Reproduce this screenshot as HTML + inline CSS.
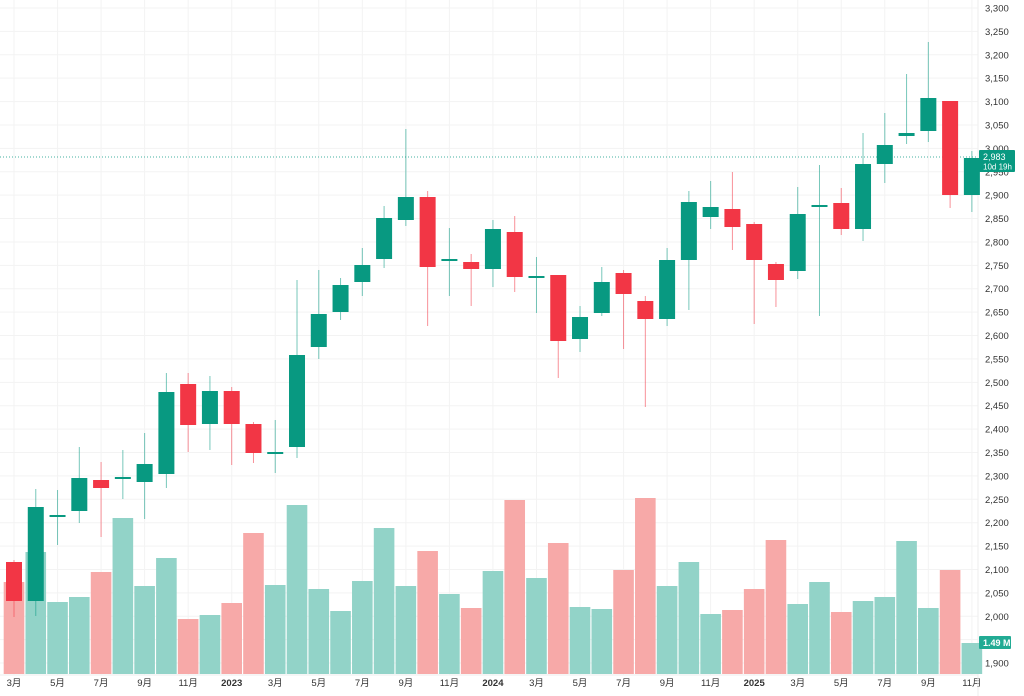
<!DOCTYPE html>
<html><head><meta charset="utf-8"><style>
html,body{margin:0;padding:0;background:#fff;width:1024px;height:696px;overflow:hidden}
svg{display:block}
text{font-family:"Liberation Sans","Noto Sans CJK SC",sans-serif;font-size:9.5px;fill:#333}
</style></head><body>
<svg id="s" width="1024" height="696" xmlns="http://www.w3.org/2000/svg"></svg>
<script>
const s=document.getElementById('s');let h='';
const X=i=>14+21.77*i;
const py=p=>8+(3300-p)*0.4679;
// grid
for(let p=1900;p<=3300;p+=50){const y=py(p);h+=`<line x1="0" x2="978" y1="${y}" y2="${y}" stroke="#f3f3f3"/>`;h+=`<text x="985" y="${y+3.5}">${p.toLocaleString('en-US')}</text>`;}
const labs=['3月','5月','7月','9月','11月','2023','3月','5月','7月','9月','11月','2024','3月','5月','7月','9月','11月','2025','3月','5月','7月','9月','11月'];
labs.forEach((l,k)=>{const x=X(k*2);h+=`<line x1="${x}" x2="${x}" y1="0" y2="675" stroke="#f3f3f3"/>`;const b=/^\d{4}$/.test(l);h+=`<text x="${x}" y="686" text-anchor="middle" style="${b?'font-weight:bold':''}">${l}</text>`;});
h+=`<line x1="978" x2="978" y1="0" y2="696" stroke="#eee"/><line x1="0" x2="978" y1="675" y2="675" stroke="#eee"/>`;
// volume
const vt=[582,552,602,597,572,518,586,558,619,615,603,533,585,505,589,611,581,528,586,551,594,608,571,500,578,543,607,609,570,498,586,562,614,610,589,540,604,582,612,601,597,541,608,570,643];
// candles: [bodyTop, bodyBot, wickTop, wickBot, up]
const c=[[562,601,560,617,0],[507,601,489,616,1],[515,517,490,545,1],[478,511,447,523,1],[480,488,462,537,0],[477,479,450,499,1],[464,482,433,519,1],[392,474,373,488,1],[384,425,373,452,0],[391,424,376,450,1],[391,424,387,465,0],[424,453,422,463,0],[452,454,420,473,1],[355,447,280,458,1],[314,347,270,359,1],[285,312,278,320,1],[265,282,248,296,1],[218,259,206,268,1],[197,220,129,226,1],[197,267,191,326,0],[259,261,228,296,1],[262,269,254,306,0],[229,269,220,287,1],[232,277,216,292,0],[276,278,257,313,1],[275,341,275,378,0],[317,339,306,352,1],[282,313,267,316,1],[273,294,270,349,0],[301,319,296,407,0],[260,319,248,326,1],[202,260,191,310,1],[207,217,181,229,1],[209,227,172,250,0],[224,260,222,324,0],[264,280,262,307,0],[214,271,187,279,1],[205,207,165,316,1],[203,229,188,235,0],[164,229,133,241,1],[145,164,113,183,1],[133,136,74,144,1],[98,131,42,142,1],[101,195,101,208,0],[158,195,151,212,1]];
vt.forEach((t,i)=>{const x=X(i);h+=`<rect x="${x-10.3}" y="${t}" width="20.6" height="${674-t}" fill="${c[i][4]?'#92d3c8':'#f7a9a8'}"/>`;});
h+=`<line x1="0" x2="978" y1="157" y2="157" stroke="#089981" stroke-dasharray="1 2" stroke-width="0.8"/>`;
c.forEach((d,i)=>{const x=X(i);const col=d[4]?'#089981':'#f23645';
h+=`<line x1="${x}" x2="${x}" y1="${d[2]}" y2="${d[3]}" stroke="${col}" stroke-opacity="0.55"/>`;
h+=`<rect x="${x-8}" y="${d[0]}" width="16" height="${Math.max(d[1]-d[0],2)}" fill="${col}"/>`;});
h+=`<rect x="979" y="150" width="36" height="22" fill="#089981" rx="1"/><text x="983" y="160" style="fill:#fff;font-size:9px">2,983</text><text x="983" y="169.5" style="fill:#fff;font-size:8px">10d 19h</text>`;
h+=`<rect x="979" y="636" width="32" height="13" fill="#22ab94" rx="1"/><text x="983" y="646" style="fill:#fff;font-size:9px;font-weight:bold">1.49 M</text>`;
s.innerHTML=h;
</script>
</body></html>
